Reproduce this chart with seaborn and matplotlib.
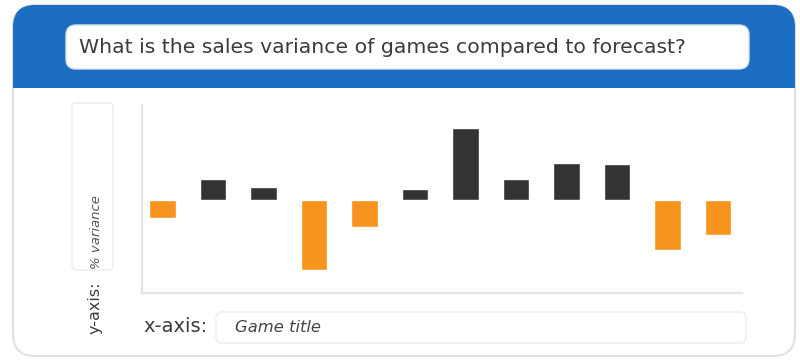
import matplotlib
matplotlib.use("Agg")
import matplotlib.pyplot as plt
from matplotlib.patches import FancyBboxPatch, Rectangle
import seaborn as sns
import pandas as pd

# ---- data ----
games = [f"Game {i}" for i in range(1, 13)]
variance = [-18, 21, 13, -70, -27, 11, 72, 21, 37, 36, -50, -35]
question = "What is the sales variance of games compared to forecast?"
y_label = "% variance"
x_label = "Game title"

df = pd.DataFrame({"game": games, "variance": variance})
df["sign"] = ["pos" if v >= 0 else "neg" for v in variance]

sns.set_theme(style="white")
plt.rcParams["font.family"] = ["DejaVu Sans"]

W, H = 800, 362
fig = plt.figure(figsize=(W / 100, H / 100), dpi=100)
fig.patch.set_facecolor("white")

# background axes in pixel coordinates
bg = fig.add_axes([0, 0, 1, 1])
bg.set_xlim(0, W)
bg.set_ylim(H, 0)
bg.axis("off")

card = FancyBboxPatch((13, 5), 782, 351, boxstyle="round,pad=0,rounding_size=22",
                      facecolor="white", edgecolor="#dcdcdc", linewidth=1.2)
bg.add_patch(card)
header = Rectangle((0, 0), W, 88, facecolor="#1b6ec2", edgecolor="none")
bg.add_patch(header)
header.set_clip_path(card)

qbox = FancyBboxPatch((66, 25), 683, 44, boxstyle="round,pad=0,rounding_size=10",
                      facecolor="white", edgecolor="#d7e3ef", linewidth=1)
bg.add_patch(qbox)
bg.text(79, 47.5, question, fontsize=14.7, color="#3c3c3c", va="center", ha="left")

# y-axis label box
ybox = FancyBboxPatch((72, 103), 41, 167, boxstyle="round,pad=0,rounding_size=4",
                      facecolor="white", edgecolor="#ececec", linewidth=1)
bg.add_patch(ybox)
bg.text(97, 232, y_label, rotation=90, fontsize=9.5, style="italic", color="#555555",
        ha="center", va="center")
bg.text(95, 308, "y-axis:", rotation=90, fontsize=11.5, color="#3c3c3c",
        ha="center", va="center")

# x-axis label box
bg.text(143, 327, "x-axis:", fontsize=14, color="#3c3c3c", ha="left", va="center")
xbox = FancyBboxPatch((216, 312), 530, 31, boxstyle="round,pad=0,rounding_size=6",
                      facecolor="white", edgecolor="#ececec", linewidth=1)
bg.add_patch(xbox)
bg.text(235, 328, x_label, fontsize=11.8, style="italic", color="#444444",
        ha="left", va="center")

# ---- chart axes ----
left_px, right_px, top_px, bot_px = 142, 742, 105, 293
ax = fig.add_axes([left_px / W, (H - bot_px) / H, (right_px - left_px) / W,
                   (bot_px - top_px) / H])
ax.set_facecolor("none")
sns.barplot(data=df, x="game", y="variance", hue="sign",
            palette={"pos": "#333333", "neg": "#f7941d"}, width=0.52,
            dodge=False, legend=False, saturation=1, ax=ax)
ax.set_xlim(-0.406, 11.475)
ax.set_ylim(-93, 95)
ax.set_xticks([])
ax.set_yticks([])
ax.set_xlabel("")
ax.set_ylabel("")
for s in ["top", "right"]:
    ax.spines[s].set_visible(False)
for s in ["left", "bottom"]:
    ax.spines[s].set_color("#e4e4e4")
    ax.spines[s].set_linewidth(1.5)

fig.savefig("out.png", dpi=100)
